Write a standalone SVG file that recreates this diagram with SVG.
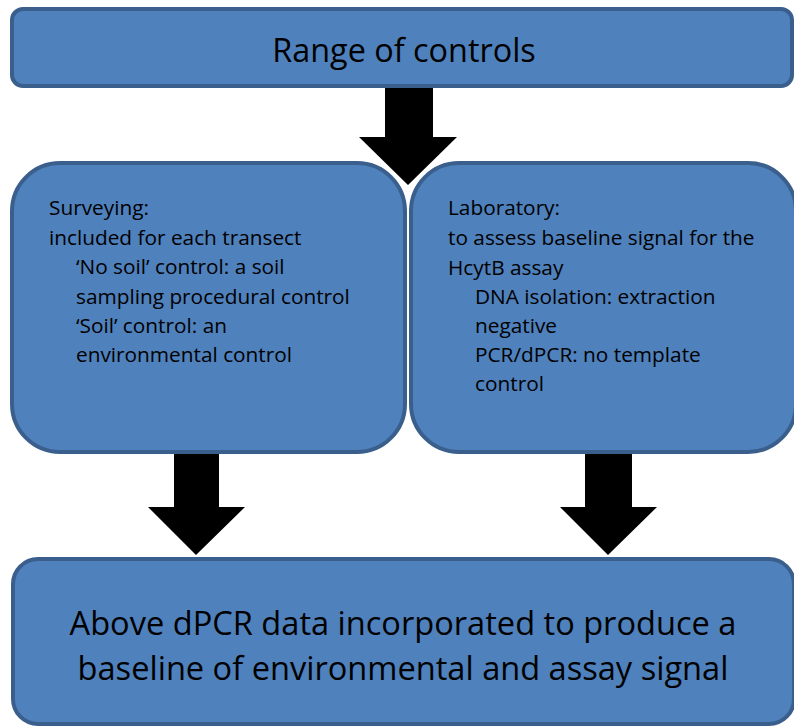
<svg xmlns="http://www.w3.org/2000/svg" width="794" height="726" viewBox="0 0 794 726">
<style>
.box{fill:#4F81BD;stroke:#3A5F8C;stroke-width:4}
.arr{fill:#000}
text{font-family:"Open Sans","Noto Sans",sans-serif;fill:#000}
.big{font-size:32.4px;text-anchor:middle}
.big2{font-size:32.6px;text-anchor:middle}
.body{font-size:20.8px}
</style>
<rect width="794" height="726" fill="#fff"/>
<g id="connectors">
<polygon class="arr" points="385,84 433,84 433,137 457,137 408,185 359,137 385,137"/>
<polygon class="arr" points="174,450 219,450 219,507 245,507 196,555 148,507 174,507"/>
<polygon class="arr" points="585,450 632,450 632,507 657,507 608,555 560,507 585,507"/>
</g>
<g id="node-top">
<rect class="box" x="12" y="9" width="780" height="77" rx="11"/>
<text class="big" x="404" y="62">Range of controls</text>
</g>
<g id="node-surveying">
<rect class="box" x="12" y="163" width="393" height="289" rx="48"/>
<text class="body" x="49" y="215">Surveying:</text>
<text class="body" x="49" y="245">included for each transect</text>
<text class="body" x="76" y="274">‘No soil’ control: a soil</text>
<text class="body" x="76" y="304">sampling procedural control</text>
<text class="body" x="76" y="333">‘Soil’ control: an</text>
<text class="body" x="76" y="362">environmental control</text>
</g>
<g id="node-laboratory">
<rect class="box" x="411" y="163" width="385" height="289" rx="48"/>
<text class="body" x="448" y="215">Laboratory:</text>
<text class="body" x="448" y="245">to assess baseline signal for the</text>
<text class="body" x="448" y="275">HcytB assay</text>
<text class="body" x="475" y="304">DNA isolation: extraction</text>
<text class="body" x="475" y="333">negative</text>
<text class="body" x="475" y="362">PCR/dPCR: no template</text>
<text class="body" x="475" y="391">control</text>
</g>
<g id="node-bottom">
<rect class="box" x="13" y="559" width="781" height="165" rx="25"/>
<text class="big2" x="403" y="635">Above dPCR data incorporated to produce a</text>
<text class="big2" x="403" y="680">baseline of environmental and assay signal</text>
</g>
</svg>
